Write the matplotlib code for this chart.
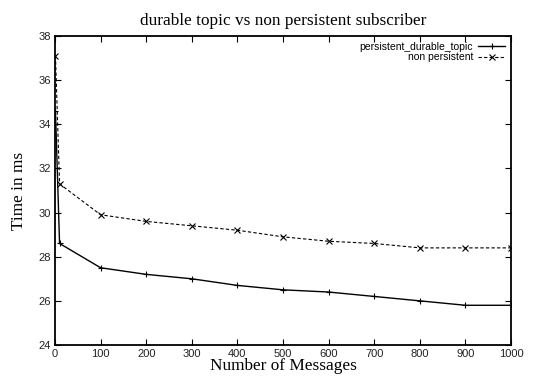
import matplotlib
matplotlib.use("Agg")
from matplotlib import pyplot as plt
import numpy as np

# message counts and timings
messages = [1, 10, 100, 200, 300, 400, 500, 600, 700, 800, 900, 1000]
persistent_durable = [34.6, 28.6, 27.5, 27.2, 27.0, 26.7, 26.5, 26.4, 26.2, 26.0, 25.8, 25.8]
non_persistent = [37.1, 31.3, 29.9, 29.6, 29.4, 29.2, 28.9, 28.7, 28.6, 28.4, 28.4, 28.4]

xticks = np.arange(0, 1001, 100)
yticks = np.arange(24, 39, 2)

fig = plt.figure(figsize=(5.34, 3.76), dpi=100)
ax = fig.add_axes([0.103, 0.0824, 0.854, 0.822])

ax.plot(messages, persistent_durable, color='black', linestyle='-', linewidth=1,
        marker='+', markersize=5, markeredgewidth=0.8, label='persistent_durable_topic')
ax.plot(messages, non_persistent, color='black', linestyle=(0, (3, 2)), linewidth=0.8,
        marker='x', markersize=4, markeredgewidth=0.8, label='non persistent')

ax.set_xlim(0, 1000)
ax.set_ylim(24, 38)
ax.set_xticks(xticks)
ax.set_yticks(yticks)
ax.tick_params(direction='in', top=True, right=True, length=4, labelsize=8, pad=3,
               labelcolor='#222222', labelfontfamily='Liberation Sans')
for s in ax.spines.values():
    s.set_linewidth(1.3)

ax.set_title('durable topic vs non persistent subscriber', family='Liberation Serif',
             fontsize=12.4, pad=8)
ax.set_xlabel('Number of Messages', family='Liberation Serif', fontsize=12.4, labelpad=-1)
ax.set_ylabel('Time in ms', family='Liberation Serif', fontsize=12.4, labelpad=8)

leg = ax.legend(loc='upper right', frameon=False, markerfirst=False,
                handlelength=2.6, handletextpad=0.5, borderaxespad=0.35, borderpad=0.2,
                labelspacing=0.05, prop={'family': 'Liberation Sans', 'size': 7.5})
for t in leg.get_texts():
    t.set_ha('right')

fig.savefig('out.png', dpi=100)
